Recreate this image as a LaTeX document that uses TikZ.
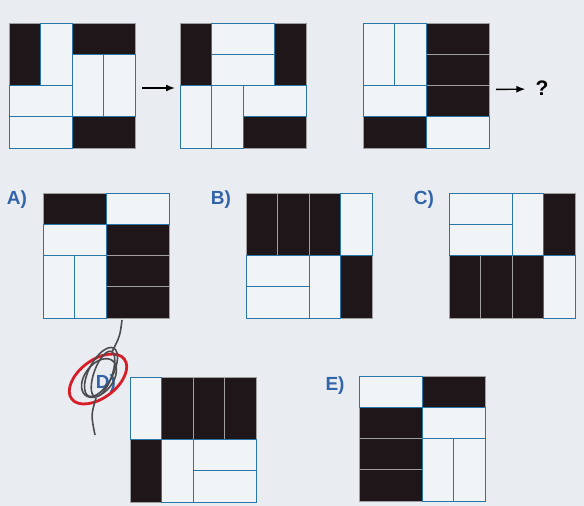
\documentclass[tikz,border=0pt]{standalone}
\usepackage{fontspec}
\setmainfont{Liberation Sans}
\usetikzlibrary{arrows.meta,positioning,calc}
\definecolor{paper}{RGB}{233,237,241}
\definecolor{cellwhite}{RGB}{241,244,247}
\definecolor{ink}{RGB}{30,22,24}
\definecolor{gridblue}{RGB}{40,118,168}
\definecolor{labelblue}{RGB}{50,100,170}
\definecolor{redink}{RGB}{215,30,40}
\definecolor{pencil}{RGB}{75,75,80}
\tikzset{
  puzzle/.style={minimum width=126pt,minimum height=125pt,inner sep=0pt,outer sep=0pt},
  blackcell/.style={fill=ink,draw=gray!75,line width=0.7pt},
  whitecell/.style={fill=cellwhite,draw=gridblue,line width=1pt},
  flow/.style={-{Latex[length=9pt,width=7pt]},line width=1.4pt},
  option/.style={font=\fontsize{19}{22}\selectfont\bfseries,text=labelblue,inner sep=0pt},
  scribble/.style={draw=pencil,line width=1.6pt}
}
% cells of one square: node, black cells, white cells (col/row/width/height)
\newcommand\drawcells[3]{%
  \begin{scope}[shift={(#1.north west)},x=31.5pt,y=-31.25pt]
    \foreach \c/\r/\w/\h in {#2}
      \draw[blackcell] (\c,\r) rectangle ++(\w,\h);
    \foreach \c/\r/\w/\h in {#3}
      \draw[whitecell] (\c,\r) rectangle ++(\w,\h);
  \end{scope}}
\begin{document}
\begin{tikzpicture}[x=1pt,y=-1pt]
  \fill[paper] (0,0) rectangle (584,506);
  \useasboundingbox (0,0) rectangle (584,506);
  % question row
  \node[puzzle] (q1) at (72,85.5) {};
  \node[puzzle] (q2) at (243,85.5) {};
  \node[puzzle] (q3) at (426,85.5) {};
  \node[font=\fontsize{21}{24}\selectfont\bfseries,inner sep=0pt] (qmark) at (542,88) {?};
  \drawcells{q1}{0/0/1/2, 2/0/2/1, 2/3/2/1}{1/0/1/2, 2/1/1/2, 3/1/1/2, 0/2/2/1, 0/3/2/1}
  \drawcells{q2}{0/0/1/2, 3/0/1/2, 2/3/2/1}{1/0/2/1, 1/1/2/1, 0/2/1/2, 1/2/1/2, 2/2/2/1}
  \drawcells{q3}{2/0/2/1, 2/1/2/1, 2/2/2/1, 0/3/2/1}{0/0/1/2, 1/0/1/2, 0/2/2/1, 2/3/2/1}
  \draw[flow,shorten <=7pt,shorten >=5pt] ([yshift=-2.5pt]q1.east) -- ([yshift=-2.5pt]q2.west);
  \draw[flow,shorten <=7pt,shorten >=10pt] ([yshift=-4pt]q3.east) -- ([yshift=-1pt]qmark.west);
  % answers
  \node[puzzle] (qa) at (106,255.5) {};
  \node[puzzle] (qb) at (309,255.5) {};
  \node[puzzle] (qc) at (512,255.5) {};
  \node[puzzle] (qd) at (193,439.5) {};
  \node[puzzle] (qe) at (422,438.5) {};
  \node[option] (labela) at (17,200) {A)};
  \node[option] (labelb) at (221,200) {B)};
  \node[option] (labelc) at (424,200) {C)};
  \node[option] (labeld) at (106,384) {D)};
  \node[option] (labele) at (335,386) {E)};
  \drawcells{qa}{0/0/2/1, 2/1/2/1, 2/2/2/1, 2/3/2/1}{2/0/2/1, 0/1/2/1, 0/2/1/2, 1/2/1/2}
  \drawcells{qb}{0/0/1/2, 1/0/1/2, 2/0/1/2, 3/2/1/2}{3/0/1/2, 0/2/2/1, 0/3/2/1, 2/2/1/2}
  \drawcells{qc}{3/0/1/2, 0/2/1/2, 1/2/1/2, 2/2/1/2}{0/0/2/1, 0/1/2/1, 2/0/1/2, 3/2/1/2}
  \drawcells{qd}{1/0/1/2, 2/0/1/2, 3/0/1/2, 0/2/1/2}{0/0/1/2, 1/2/1/2, 2/2/2/1, 2/3/2/1}
  \drawcells{qe}{2/0/2/1, 0/1/2/1, 0/2/2/1, 0/3/2/1}{0/0/2/1, 2/1/2/1, 2/2/1/2, 3/2/1/2}
  % pen marks round D
  \draw[redink,line width=2.8pt,rotate around={37:(98,379)}] (98,379) ellipse [x radius=33,y radius=19];
  \draw[scribble] (122,320) .. controls (120,336) .. (112,352);
  \draw[scribble,rotate around={62:(101,372)}] (101,372) ellipse [x radius=27,y radius=12];
  \draw[scribble,rotate around={52:(99,378)}] (99,378) ellipse [x radius=22,y radius=14];
  \draw[scribble,rotate around={70:(103,374)}] (103,374) ellipse [x radius=24,y radius=9];
  \draw[scribble] (96,398) .. controls (91,415) .. (95,435);
\end{tikzpicture}
\end{document}
